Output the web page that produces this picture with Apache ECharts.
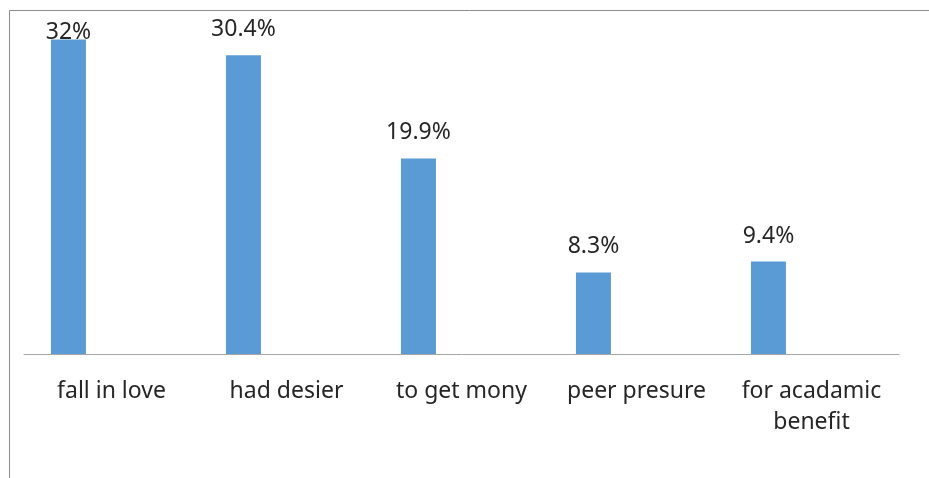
<!DOCTYPE html>
<html>
<head>
<meta charset="utf-8">
<script src="https://cdn.jsdelivr.net/npm/echarts@6/dist/echarts.min.js"></script>
<style>
html,body{margin:0;padding:0;background:#fff;}
#chart{width:929px;height:478px;}
</style>
</head>
<body>
<div id="chart"></div>
<script>
const categories = ['fall in love', 'had desier', 'to get mony', 'peer presure', 'for acadamic\nbenefit'];
const values = [32, 30.4, 19.9, 8.3, 9.4];
const placeholder = [null, null, null, null, null];

const chart = echarts.init(document.getElementById('chart'), null, {renderer: 'canvas'});
const textColor = '#262626';
const fontFamily = '"Noto Sans", "Open Sans", sans-serif';

chart.setOption({
  animation: false,
  backgroundColor: '#ffffff',
  grid: {left: 24, right: 30, top: 10, bottom: 124, containLabel: false},
  graphic: [{
    type: 'rect',
    shape: {x: 9.5, y: 10.5, width: 2000, height: 2000},
    style: {fill: 'none', stroke: '#8c8c8c', lineWidth: 1},
    silent: true
  }],
  xAxis: {
    type: 'category',
    data: categories,
    axisLine: {lineStyle: {color: '#a6a6a6', width: 1}},
    axisTick: {show: false},
    axisLabel: {
      color: textColor, fontSize: 23, fontFamily: fontFamily,
      margin: 22, lineHeight: 31, interval: 0
    }
  },
  yAxis: {
    type: 'value', min: 0, max: 35, show: false,
    splitLine: {show: false}
  },
  series: [{
    type: 'bar',
    data: values.map((v, i) => i === 0
      ? {value: v, label: {distance: -4}}
      : v),
    barWidth: 35,
    barGap: '146%',
    itemStyle: {color: '#5b9bd5'},
    label: {
      show: true, position: 'top', distance: 14,
      color: textColor, fontSize: 23, fontFamily: fontFamily,
      formatter: p => p.value + '%'
    }
  }, {
    type: 'bar',
    data: placeholder,
    barWidth: 35,
    itemStyle: {color: 'rgba(0,0,0,0)'}
  }]
});
</script>
</body>
</html>
